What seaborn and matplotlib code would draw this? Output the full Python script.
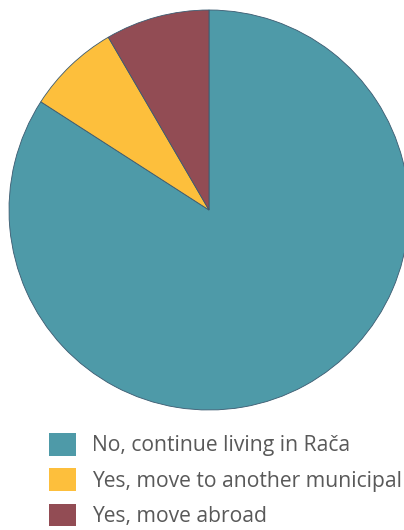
import numpy as np
import pandas as pd
import seaborn as sns
import matplotlib.pyplot as plt
from matplotlib.patches import Patch

# Data
labels = ["No, continue living in Rača", "Yes, move to another municipal", "Yes, move abroad"]
shares = [84.1, 7.5, 8.4]
colors = ["#4E9AA8", "#FDBF3C", "#924C54"]

sns.set_theme(style="white")
plt.rcParams["font.family"] = ["Open Sans", "DejaVu Sans"]

fig = plt.figure(figsize=(4.04, 5.30), dpi=100)
ax = fig.add_axes([9 / 404, 120 / 530, 400 / 404, 400 / 530])
ax.pie(shares, colors=sns.color_palette(colors), startangle=90, counterclock=False,
       radius=1, wedgeprops={"edgecolor": "#3b5a70", "linewidth": 0.6})
ax.set_xlim(-1, 1)
ax.set_ylim(-1, 1)
ax.set_aspect("equal")
ax.axis("off")

# Legend below the pie
fs = 15.2
px = fs * 100 / 72
handles = [Patch(facecolor=c, edgecolor="none") for c in colors]
fig.legend(handles, labels, loc="upper left", bbox_to_anchor=(49 / 404, 1 - 433 / 530),
           frameon=False, fontsize=fs, labelcolor="#595959", borderpad=0, borderaxespad=0,
           handlelength=27 / px, handleheight=27 / px, handletextpad=16 / px,
           labelspacing=0.56)

fig.savefig("out.png", dpi=100)
